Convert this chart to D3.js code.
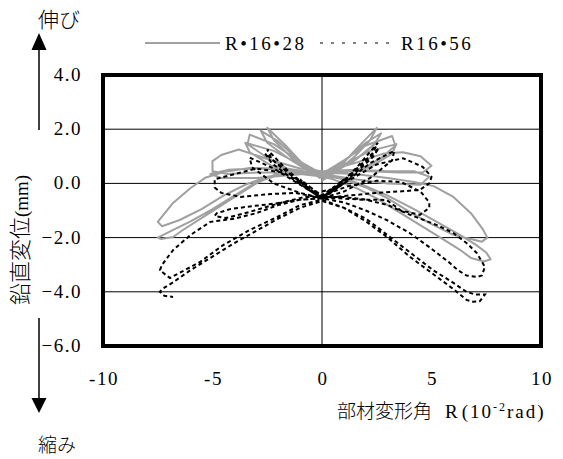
<!DOCTYPE html>
<meta charset="utf-8">
<script src="https://cdn.jsdelivr.net/npm/d3@7"></script>
<style>
  body { margin: 0; background: #fff; }
  svg text { fill: #000; }
</style>
<div id="chart"></div>
<script>
  // tick values
  const xTicks = [-10, -5, 0, 5, 10];
  const yTicks = [4, 2, 0, -2, -4, -6];
  const seriesNames = ["R•16•28", "R16•56"];

  // R・16・28 : member rotation angle (10^-2 rad) / vertical displacement (mm)
  const r1628Angle = [0, 0.5, 1.0, 0.6, 0.1, -0.5, -1.0, -0.6, -0.1,
    0.8, 1.6, 2.5, 2.2, 1.5, 0.7, 0, -0.8, -1.6, -2.5, -2.2, -1.4, -0.6, 0,
    1.0, 2.0, 2.7, 2.4, 1.5, 0.5, 0, -1.0, -2.0, -2.8, -2.5, -1.5, -0.5, 0,
    1.0, 2.0, 3.2, 3.35, 2.8, 2.0, 1.0, 0, -1.0, -2.2, -3.3, -3.4, -2.6, -1.6, -0.5, 0,
    1.0, 2.2, 3.4, 3.2, 2.2, 1.0, 0, -1.0, -2.2, -3.5, -3.3, -2.3, -1.0, 0,
    1.5, 2.8, 3.7, 4.5, 5.0, 4.6, 3.5, 2.2, 1.0, 0,
    -1.0, -2.5, -3.8, -4.6, -5.0, -5.0, -4.3, -3.0, -1.8, -0.5, 0,
    1.5, 3.0, 4.2, 4.9, 4.5, 3.0, 1.5, 0,
    -1.5, -3.0, -4.3, -5.1, -4.6, -3.0, -1.5, 0,
    1.5, 3.0, 4.2, 5.1, 6.0, 6.8, 7.35, 7.55, 7.3, 6.8, 6.0, 5.0, 4.0, 3.0, 2.0, 1.0, 0,
    -1.0, -2.0, -3.3, -4.5, -5.3, -6.0, -6.8, -7.5, -7.3, -6.5, -5.5, -4.5, -3.5, -2.5, -1.2, 0,
    1.0, 2.0, 3.0, 4.2, 5.2, 6.2, 7.0, 7.5, 7.7, 7.4, 6.8, 6.3, 5.5, 4.5, 3.5, 2.5, 1.5, 0.5, 0,
    -1.0, -2.0, -3.0, -4.0, -5.0, -6.0, -7.0, -7.5, -7.35, -6.8, -6.35, -5.27, -4.2, -3.0, -1.9, -0.8, 0];
  const r1628Disp = [0.1, 0.35, 0.75, 0.5, 0.2, 0.4, 0.8, 0.5, 0.2,
    0.6, 1.3, 2.05, 1.6, 1.0, 0.45, 0.25, 0.65, 1.35, 2.05, 1.6, 0.95, 0.45, 0.3,
    0.8, 1.5, 1.85, 1.45, 0.85, 0.4, 0.3, 0.8, 1.55, 1.95, 1.5, 0.9, 0.4, 0.35,
    0.85, 1.4, 1.75, 1.4, 1.0, 0.6, 0.4, 0.35, 0.8, 1.45, 1.8, 1.45, 1.0, 0.55, 0.4, 0.38,
    0.7, 1.2, 1.45, 1.1, 0.6, 0.45, 0.4, 0.7, 1.2, 1.5, 1.15, 0.65, 0.45, 0.42,
    0.75, 1.1, 1.15, 1.0, 0.65, 0.4, 0.4, 0.45, 0.45, 0.45,
    0.55, 0.9, 1.25, 1.05, 0.82, 0.45, 0.35, 0.4, 0.4, 0.45, 0.45,
    0.5, 0.45, 0.45, 0.25, -0.05, 0.0, 0.15, 0.35,
    0.5, 0.55, 0.5, 0.35, 0.2, 0.2, 0.3, 0.4,
    0.35, 0.2, 0.05, -0.1, -0.5, -1.1, -1.7, -2.0, -2.15, -2.05, -1.9, -1.5, -1.05, -0.55, -0.15, 0.15, 0.3,
    0.45, 0.55, 0.57, 0.42, 0.22, -0.17, -0.72, -1.42, -1.58, -1.35, -0.95, -0.45, -0.05, 0.25, 0.4, 0.35,
    0.2, -0.1, -0.45, -0.95, -1.4, -1.85, -2.25, -2.55, -2.8, -2.88, -2.75, -2.45, -2.05, -1.55, -1.05, -0.55, -0.15, 0.15, 0.25,
    0.35, 0.3, 0.05, -0.45, -0.95, -1.4, -1.8, -2.0, -2.05, -1.98, -1.72, -1.16, -0.61, 0.0, 0.42, 0.4, 0.3];

  // R16・56
  const r1656Angle = [0, 0.5, 0.1, -0.5, -0.1, 0.6, 1.0, 0.5, 0, -0.6, -1.0, -0.5, 0,
    0.8, 1.6, 2.55, 2.3, 1.4, 0.5, 0, -0.8, -1.6, -2.5, -2.3, -1.4, -0.5, 0,
    0.9, 1.8, 2.6, 2.3, 1.4, 0.5, 0, -0.9, -1.8, -2.6, -2.3, -1.4, -0.5, 0,
    1.0, 2.2, 3.3, 3.2, 2.2, 1.0, 0, -1.0, -2.2, -3.3, -3.2, -2.2, -1.0, 0,
    1.2, 2.5, 3.7, 4.6, 5.0, 4.9, 4.47, 3.5, 2.5, 1.2, 0,
    -1.2, -2.5, -3.7, -4.6, -4.9, -4.9, -4.2, -3.0, -1.8, -0.6, 0,
    1.2, 2.5, 3.6, 4.5, 4.9, 4.9, 4.47, 3.6, 2.95, 1.8, 0.8, 0,
    -1.0, -2.2, -3.3, -4.2, -4.8, -4.9, -4.4, -3.3, -1.9, -0.8, 0,
    1.0, 2.0, 3.0, 4.0, 5.25, 6.0, 6.6, 7.07, 7.44, 7.3, 7.07, 6.6, 6.2, 5.84, 4.9, 4.0, 2.95, 2.0, 1.0, 0,
    -1.0, -2.0, -3.0, -4.0, -5.1, -6.0, -6.8, -7.3, -7.4, -7.1, -6.94, -6.5, -5.57, -4.5, -3.3, -2.05, -1.0, 0,
    1.0, 2.0, 2.5, 3.7, 5.07, 6.0, 6.6, 7.0, 7.44, 7.2, 6.9, 6.6, 6.0, 5.0, 4.0, 3.0, 2.0, 1.0, 0,
    -1.0, -2.0, -3.0, -4.0, -5.0, -6.0, -6.8, -7.3, -7.4, -7.2, -6.8];
  const r1656Disp = [-0.3, -0.2, -0.45, -0.25, -0.5, -0.1, 0.15, -0.25, -0.5, -0.1, 0.15, -0.3, -0.5,
    -0.05, 0.6, 1.5, 1.1, 0.4, -0.25, -0.55, -0.05, 0.5, 1.25, 0.9, 0.3, -0.25, -0.55,
    0.0, 0.65, 1.3, 0.95, 0.3, -0.3, -0.55, 0.0, 0.55, 1.1, 0.75, 0.2, -0.3, -0.55,
    0.0, 0.75, 1.2, 0.85, 0.2, -0.3, -0.55, -0.05, 0.55, 0.95, 0.6, 0.0, -0.35, -0.55,
    0.1, 0.7, 0.93, 0.61, 0.24, 0.0, -0.24, -0.3, -0.35, -0.45, -0.55,
    -0.35, -0.4, -0.5, -0.35, -0.15, 0.15, 0.3, 0.55, 0.4, -0.1, -0.45,
    -0.1, 0.1, 0.05, -0.3, -0.7, -0.9, -1.16, -1.0, -0.61, -0.6, -0.55, -0.55,
    -0.6, -0.75, -0.85, -0.95, -1.1, -1.2, -1.28, -1.05, -0.72, -0.5, -0.5,
    -0.5, -0.6, -0.8, -1.15, -1.54, -1.83, -2.2, -2.57, -3.08, -3.4, -3.45, -3.4, -3.2, -2.94, -2.35, -1.83, -1.35, -1.0, -0.7, -0.55,
    -0.6, -0.8, -1.1, -1.3, -1.42, -1.9, -2.46, -3.0, -3.2, -3.4, -3.49, -3.3, -2.9, -2.27, -1.72, -1.24, -0.8, -0.6,
    -0.9, -1.3, -1.6, -2.35, -3.2, -3.67, -4.0, -4.1, -4.1, -4.35, -4.37, -4.3, -3.9, -3.3, -2.7, -2.0, -1.4, -0.9, -0.65,
    -0.9, -1.3, -1.75, -2.2, -2.7, -3.2, -3.65, -3.9, -4.0, -4.15, -4.19];

  const W = 563, H = 459;
  const plot = {left: 103, right: 541, top: 75, bottom: 346};
  const serif = '"Liberation Serif", "Times New Roman", serif';
  const cjk = '"Noto Sans CJK JP", sans-serif';

  const svg = d3.select("#chart").append("svg")
    .attr("width", W)
    .attr("height", H);

  const x = d3.scaleLinear().domain([-10, 10]).range([plot.left, plot.right]);
  const y = d3.scaleLinear().domain([-6, 4]).range([plot.bottom, plot.top]);

  // grid lines
  svg.append("g").selectAll("line")
    .data(yTicks.filter(d => d > -6 && d < 4))
    .join("line")
      .attr("x1", plot.left).attr("x2", plot.right)
      .attr("y1", d => y(d)).attr("y2", d => y(d))
      .attr("stroke", "#000").attr("stroke-width", 1);
  svg.append("line")
    .attr("x1", x(0)).attr("x2", x(0))
    .attr("y1", plot.top).attr("y2", plot.bottom)
    .attr("stroke", "#000").attr("stroke-width", 1);

  const line = d3.line().x(d => x(d[0])).y(d => y(d[1]));

  const s1 = r1628Angle.map((a, i) => [a, r1628Disp[i]]);
  const s2 = r1656Angle.map((a, i) => [a, r1656Disp[i]]);

  svg.append("path")
    .attr("d", line(s1))
    .attr("fill", "none")
    .attr("stroke", "#a0a0a0")
    .attr("stroke-width", 2)
    .attr("stroke-linejoin", "round");

  svg.append("path")
    .attr("d", line(s2))
    .attr("fill", "none")
    .attr("stroke", "#000")
    .attr("stroke-width", 2)
    .attr("stroke-dasharray", "4,3");

  // frame
  svg.append("rect")
    .attr("x", plot.left).attr("y", plot.top)
    .attr("width", plot.right - plot.left)
    .attr("height", plot.bottom - plot.top)
    .attr("fill", "none")
    .attr("stroke", "#000")
    .attr("stroke-width", 4);

  // axis labels
  svg.append("g").selectAll("text")
    .data(yTicks)
    .join("text")
      .attr("x", 82)
      .attr("y", d => y(d) + 6)
      .attr("text-anchor", "end")
      .style("font-family", serif)
      .attr("font-size", 19)
      .attr("letter-spacing", 1.5)
      .text(d => d3.format(".1f")(d));

  svg.append("g").selectAll("text")
    .data(xTicks)
    .join("text")
      .attr("x", d => x(d) + 1)
      .attr("y", 385)
      .attr("text-anchor", "middle")
      .style("font-family", serif)
      .attr("font-size", 19)
      .attr("letter-spacing", 1.5)
      .text(d => d);

  // y title
  const yt = svg.append("text")
    .attr("transform", "translate(28,240) rotate(-90)")
    .attr("text-anchor", "middle")
    .attr("font-size", 22);
  yt.append("tspan").style("font-family", cjk).style("font-weight", 300).text("鉛直変位");
  yt.append("tspan").style("font-family", serif).attr("font-size", 19).text("(mm)");

  // x title
  svg.append("text")
    .attr("x", 337).attr("y", 418)
    .style("font-family", cjk).style("font-weight", 300)
    .attr("font-size", 19)
    .text("部材変形角");
  const xt = svg.append("text")
    .attr("x", 445)
    .attr("y", 418)
    .style("font-family", serif)
    .attr("font-size", 19)
    .attr("letter-spacing", 2);
  xt.append("tspan").text("R");
  xt.append("tspan").attr("dx", 2).text("(10");
  xt.append("tspan").attr("font-size", 12).attr("dy", -7).text("-2");
  xt.append("tspan").attr("dy", 7).text("rad)");

  // arrows
  const ar = svg.append("g");
  ar.append("line").attr("x1", 39).attr("x2", 39).attr("y1", 48).attr("y2", 130)
    .attr("stroke", "#000").attr("stroke-width", 1.5);
  ar.append("path").attr("d", "M39,33 L46.5,50 L31.5,50 Z").attr("fill", "#000");
  ar.append("line").attr("x1", 39).attr("x2", 39).attr("y1", 318).attr("y2", 400)
    .attr("stroke", "#000").attr("stroke-width", 1.5);
  ar.append("path").attr("d", "M39,413 L46.5,398 L31.5,398 Z").attr("fill", "#000");
  svg.append("text").attr("x", 38).attr("y", 27).attr("font-size", 21)
    .style("font-family", cjk).style("font-weight", 300).text("伸び");
  svg.append("text").attr("x", 38).attr("y", 452).attr("font-size", 19)
    .style("font-family", cjk).style("font-weight", 300).text("縮み");

  // legend
  const lg = svg.append("g");
  lg.append("line").attr("x1", 145).attr("x2", 220).attr("y1", 43).attr("y2", 43)
    .attr("stroke", "#a0a0a0").attr("stroke-width", 2);
  lg.append("text").attr("x", 225).attr("y", 50).attr("font-size", 19)
    .attr("letter-spacing", 2.5)
    .style("font-family", serif).text(seriesNames[0]);
  lg.append("line").attr("x1", 320).attr("x2", 396).attr("y1", 43).attr("y2", 43)
    .attr("stroke", "#000").attr("stroke-width", 1).attr("stroke-dasharray", "3,8");
  lg.append("text").attr("x", 401).attr("y", 50).attr("font-size", 19)
    .attr("letter-spacing", 2.5)
    .style("font-family", serif).text(seriesNames[1]);
</script>
